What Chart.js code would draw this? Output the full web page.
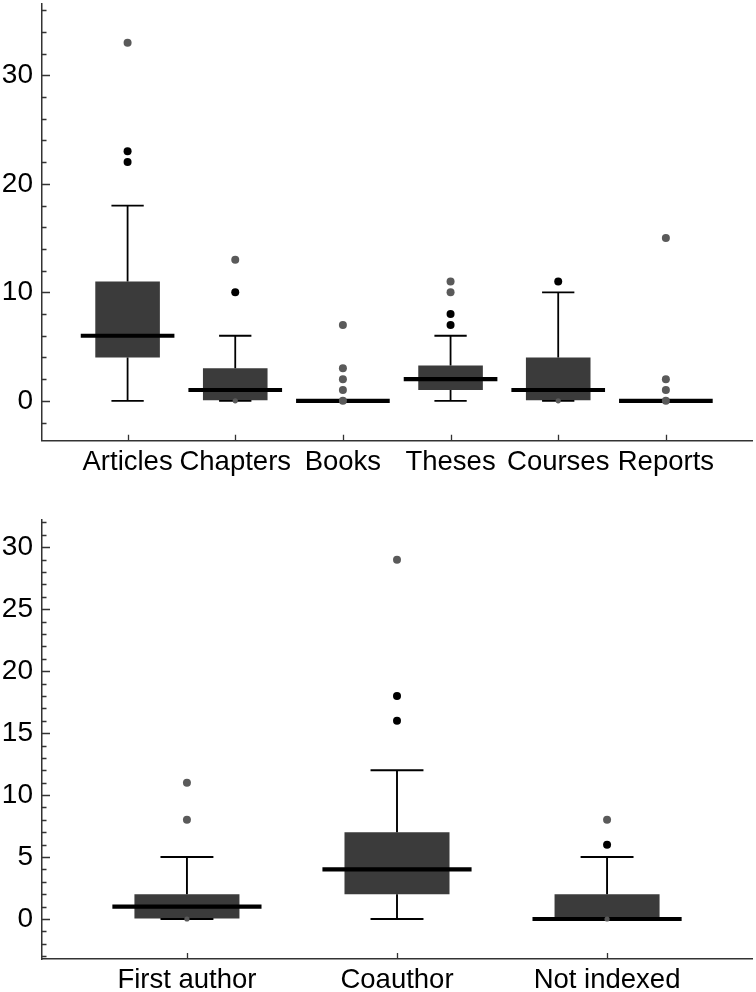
<!DOCTYPE html>
<html>
<head>
<meta charset="utf-8">
<script src="https://cdn.jsdelivr.net/npm/chart.js@4.4.1/dist/chart.umd.min.js"></script>
<style>
  body { margin: 0; background: #fff; }
  canvas { display: block; }
</style>
</head>
<body>
<canvas id="pubChart" width="756" height="490"></canvas>
<canvas id="authChart" width="756" height="502"></canvas>
<script>
/* publication types */
const pubLabels = ['Articles', 'Chapters', 'Books', 'Theses', 'Courses', 'Reports'];
const pubQ1 = [4, 0, 0, 1, 0, 0];
const pubMedian = [6, 1, 0, 2, 1, 0];
const pubQ3 = [11, 3, 0, 3.25, 4, 0];
const pubLow = [0, 0, 0, 0, 0, 0];
const pubHigh = [18, 6, 0, 6, 10, 0];
const pubNear = [[22, 23], [10], [], [7, 8], [11], []];
const pubFar = [[33], [13], [0, 1, 2, 3, 7], [10, 11], [], [0, 1, 2, 15]];
const pubZero = [[], [0], [], [], [0], []];
const pubTicks = [0, 10, 20, 30];

/* authorship */
const authLabels = ['First author', 'Coauthor', 'Not indexed'];
const authQ1 = [0, 2, 0];
const authMedian = [1, 4, 0];
const authQ3 = [2, 7, 2];
const authLow = [0, 0, 0];
const authHigh = [5, 12, 5];
const authNear = [[], [16, 18], [6]];
const authFar = [[8, 11], [29], [8]];
const authZero = [[0], [], [0]];
const authTicks = [0, 5, 10, 15, 20, 25, 30];

Chart.defaults.font.family = '"Liberation Sans", Arial, sans-serif';
Chart.defaults.color = '#000';

const innerTicks = {
  id: 'innerTicks',
  afterDraw(chart, args, opts) {
    const ctx = chart.ctx;
    const x = chart.scales.x, y = chart.scales.y;
    const area = chart.chartArea;
    ctx.save();
    ctx.strokeStyle = '#333';
    ctx.lineWidth = 1.3;
    ctx.beginPath();
    for (let v = opts.yFrom; v <= opts.yTo + 1e-9; v += opts.yStep) {
      const py = Math.round(y.getPixelForValue(v)) + 0.5;
      const len = Math.abs(v % opts.yMajor) < 1e-9 ? 8 : 4.5;
      ctx.moveTo(area.left, py);
      ctx.lineTo(area.left + len, py);
    }
    for (let i = 0; i < opts.count; i++) {
      const px = Math.round(x.getPixelForValue(i)) + 0.5;
      ctx.moveTo(px, area.bottom);
      ctx.lineTo(px, area.bottom - 6);
    }
    ctx.stroke();
    ctx.restore();
  }
};

function boxDatasets(q1, med, q3, low, high, near, far, zero, w) {
  let boxes = [], whiskers = [], medians = [], nearPts = [], farPts = [], zeroPts = [];
  for (let i = 0; i < q1.length; i++) {
    boxes.push({x: i, y: [q1[i], q3[i]]});
    whiskers.push({x: i, y: q3[i]}, {x: i, y: high[i]}, {x: i, y: null});
    whiskers.push({x: i - w.cap, y: high[i]}, {x: i + w.cap, y: high[i]}, {x: i, y: null});
    whiskers.push({x: i, y: q1[i]}, {x: i, y: low[i]}, {x: i, y: null});
    whiskers.push({x: i - w.cap, y: low[i]}, {x: i + w.cap, y: low[i]}, {x: i, y: null});
    medians.push({x: i - w.median, y: med[i]}, {x: i + w.median, y: med[i]}, {x: i, y: null});
    near[i].forEach(v => nearPts.push({x: i, y: v}));
    far[i].forEach(v => farPts.push({x: i, y: v}));
    zero[i].forEach(v => zeroPts.push({x: i, y: v}));
  }
  return [
    {type: 'bar', data: boxes, backgroundColor: '#3b3b3b', borderWidth: 0,
     barPercentage: w.box, categoryPercentage: 1, order: 4},
    {type: 'line', data: whiskers, borderColor: '#000', borderWidth: w.line,
     pointRadius: 0, spanGaps: false, borderCapStyle: 'butt', order: 3},
    {type: 'line', data: medians, borderColor: '#000', borderWidth: 4.2,
     pointRadius: 0, spanGaps: false, borderCapStyle: 'butt', order: 2},
    {type: 'scatter', data: zeroPts, backgroundColor: '#5a5a5a', pointRadius: 2.6,
     pointBorderWidth: 0, order: 1},
    {type: 'scatter', data: farPts, backgroundColor: '#5a5a5a', pointRadius: 4,
     pointBorderWidth: 0, order: 0},
    {type: 'scatter', data: nearPts, backgroundColor: '#000', pointRadius: 4,
     pointBorderWidth: 0, order: 0}
  ];
}

function makeChart(id, labels, datasets, cfg) {
  return new Chart(document.getElementById(id), {
    type: 'bar',
    data: {datasets: datasets},
    options: {
      responsive: false,
      animation: false,
      layout: {padding: {top: cfg.padTop, right: 3, left: 0, bottom: 0}},
      plugins: {
        legend: {display: false},
        tooltip: {enabled: false},
        innerTicks: cfg.ticks
      },
      scales: {
        x: {
          type: 'linear',
          min: cfg.xMin,
          max: cfg.xMax,
          offset: false,
          afterFit: s => { s.height = cfg.xHeight; },
          grid: {drawOnChartArea: false, drawTicks: false},
          border: {color: '#333', width: 1.5},
          ticks: {
            stepSize: 1,
            includeBounds: false,
            autoSkip: false,
            maxRotation: 0,
            minRotation: 0,
            padding: 5,
            font: {size: 27.5},
            callback: v => labels[v]
          }
        },
        y: {
          min: cfg.yMin,
          max: cfg.yMax,
          afterFit: s => { s.width = 42; s.paddingTop = 0; s.paddingBottom = 0; },
          afterBuildTicks: s => { s.ticks = cfg.yTicks.map(v => ({value: v})); },
          grid: {drawOnChartArea: false, drawTicks: false},
          border: {color: '#333', width: 1.5},
          ticks: {padding: 9, font: {size: 28}}
        }
      }
    },
    plugins: [innerTicks]
  });
}

makeChart('pubChart', pubLabels,
  boxDatasets(pubQ1, pubMedian, pubQ3, pubLow, pubHigh, pubNear, pubFar, pubZero,
    {box: 0.6, median: 0.435, cap: 0.15, line: 1.8}),
  {padTop: 2, xHeight: 49.3, xMin: -0.795, xMax: 5.8, yMin: -3.67, yMax: 36.57,
   yTicks: pubTicks, ticks: {yFrom: -2, yTo: 36, yStep: 2, yMajor: 10, count: pubLabels.length}});

makeChart('authChart', authLabels,
  boxDatasets(authQ1, authMedian, authQ3, authLow, authHigh, authNear, authFar, authZero,
    {box: 0.5, median: 0.355, cap: 0.126, line: 1.9}),
  {padTop: 30, xHeight: 33, xMin: -0.69, xMax: 2.69, yMin: -3.23, yMax: 32.2,
   yTicks: authTicks, ticks: {yFrom: -3, yTo: 32, yStep: 1, yMajor: 5, count: authLabels.length}});
</script>
</body>
</html>
